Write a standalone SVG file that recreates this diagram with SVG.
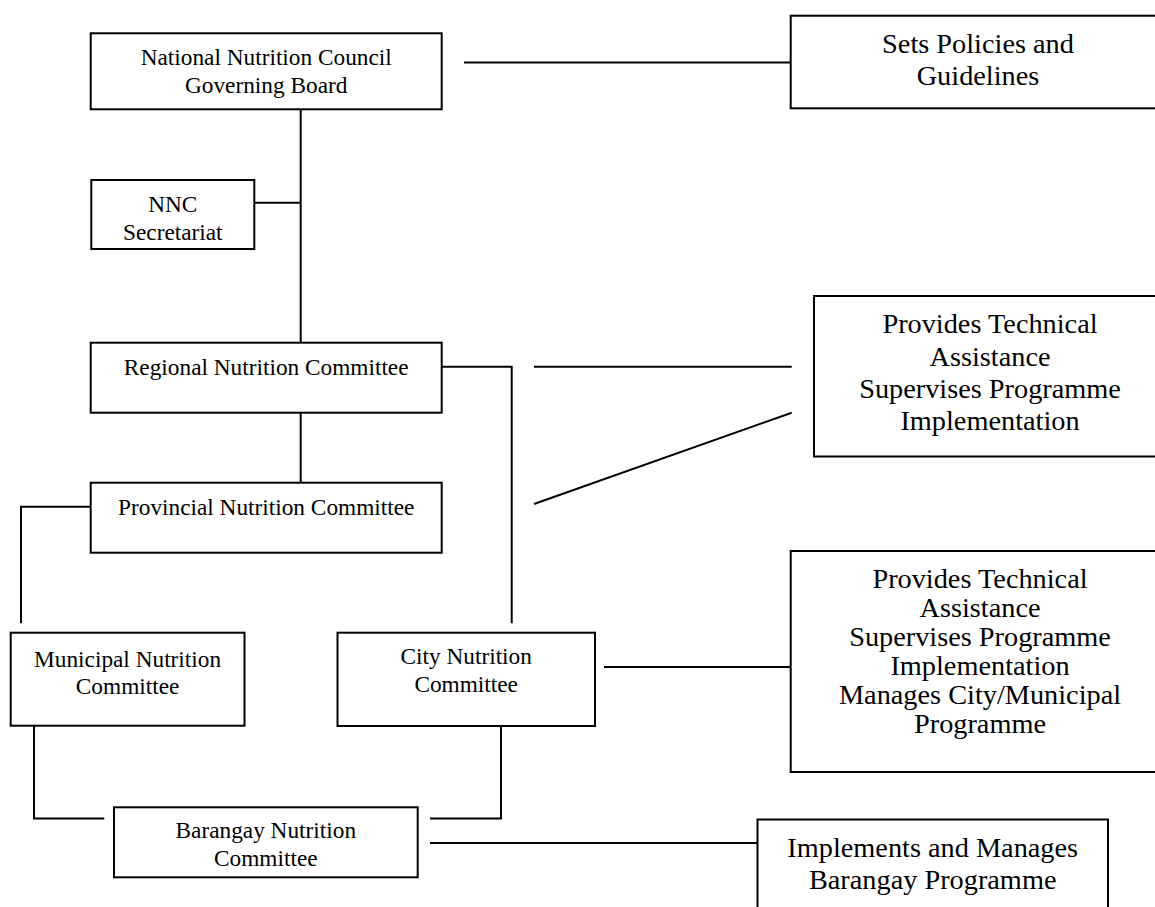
<svg xmlns="http://www.w3.org/2000/svg" width="1155" height="907" viewBox="0 0 1155 907">
<style>
.box{fill:#fff;stroke:#000;stroke-width:2}
.ln{fill:none;stroke:#000;stroke-width:2}
.s{font-family:"Liberation Serif","Times New Roman",serif;font-size:23.3px;fill:#000;text-anchor:middle}
.l{font-family:"Liberation Serif","Times New Roman",serif;font-size:28.3px;fill:#000;text-anchor:middle}
</style>
<rect width="1155" height="907" fill="#fff"/>
<g id="connectors">
<path class="ln" d="M300.7 109.3V342.7"/>
<path class="ln" d="M254.3 202.7H300.7"/>
<path class="ln" d="M464 62.5H790.7"/>
<path class="ln" d="M300.7 412.7V482.7"/>
<path class="ln" d="M441.7 366.7H511.7V623.3"/>
<path class="ln" d="M534 366.7H791.7"/>
<path class="ln" d="M534 504L791.7 412.7"/>
<path class="ln" d="M90.7 506.7H21V623.3"/>
<path class="ln" d="M604 667H790.7"/>
<path class="ln" d="M34 725.7V818.5H104.3"/>
<path class="ln" d="M501 726V818.5H430"/>
<path class="ln" d="M430 843H757.5"/>
</g>
<g id="nnc-board">
<rect class="box" x="90.7" y="33.3" width="351" height="76"/>
<text class="s" x="266.2" y="65">National Nutrition Council</text>
<text class="s" x="266.2" y="93.3">Governing Board</text>
</g>
<g id="nnc-secretariat">
<rect class="box" x="91.3" y="180" width="163" height="69"/>
<text class="s" x="172.8" y="211.7">NNC</text>
<text class="s" x="172.8" y="239.7">Secretariat</text>
</g>
<g id="regional">
<rect class="box" x="90.7" y="342.7" width="351" height="70"/>
<text class="s" x="266.2" y="375">Regional Nutrition Committee</text>
</g>
<g id="provincial">
<rect class="box" x="90.7" y="482.7" width="351" height="70"/>
<text class="s" x="266.2" y="515">Provincial Nutrition Committee</text>
</g>
<g id="municipal">
<rect class="box" x="10.7" y="632.7" width="233.8" height="93"/>
<text class="s" x="127.6" y="666.5">Municipal Nutrition</text>
<text class="s" x="127.6" y="694">Committee</text>
</g>
<g id="city">
<rect class="box" x="337.5" y="632.7" width="257.5" height="93.3"/>
<text class="s" x="466.2" y="664.3">City Nutrition</text>
<text class="s" x="466.2" y="691.7">Committee</text>
</g>
<g id="barangay">
<rect class="box" x="114" y="807.3" width="303.7" height="70"/>
<text class="s" x="265.8" y="838.3">Barangay Nutrition</text>
<text class="s" x="265.8" y="865.7">Committee</text>
</g>
<g id="sets-policies">
<rect class="box" x="790.7" y="15.7" width="375" height="92.6"/>
<text class="l" x="978" y="53.3">Sets Policies and</text>
<text class="l" x="978" y="85">Guidelines</text>
</g>
<g id="provides-1">
<rect class="box" x="814" y="296" width="352" height="160.5"/>
<text class="l" x="990" y="333.3">Provides Technical</text>
<text class="l" x="990" y="365.5">Assistance</text>
<text class="l" x="990" y="397.7">Supervises Programme</text>
<text class="l" x="990" y="430">Implementation</text>
</g>
<g id="provides-2">
<rect class="box" x="790.7" y="551" width="378" height="221"/>
<text class="l" x="980" y="588">Provides Technical</text>
<text class="l" x="980" y="617">Assistance</text>
<text class="l" x="980" y="646">Supervises Programme</text>
<text class="l" x="980" y="675">Implementation</text>
<text class="l" x="980" y="704">Manages City/Municipal</text>
<text class="l" x="980" y="733">Programme</text>
</g>
<g id="implements">
<rect class="box" x="757.5" y="819.5" width="350.5" height="110"/>
<text class="l" x="932.7" y="857">Implements and Manages</text>
<text class="l" x="932.7" y="889">Barangay Programme</text>
</g>
</svg>
